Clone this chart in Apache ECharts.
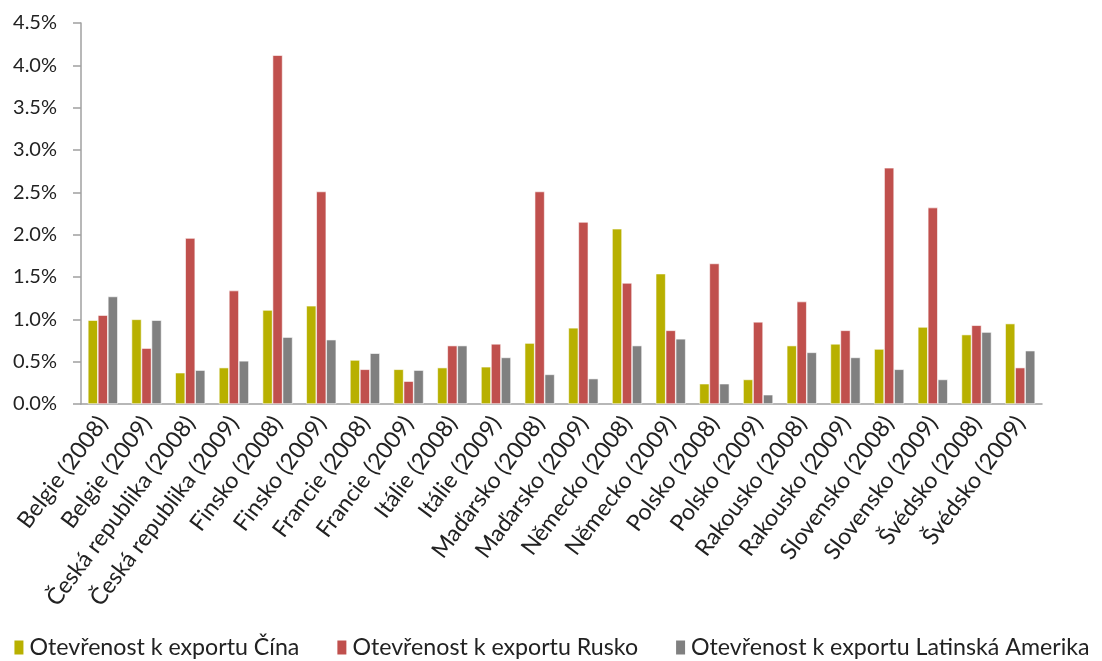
<!DOCTYPE html>
<html><head><meta charset="utf-8">
<script src="https://cdn.jsdelivr.net/npm/echarts@6/dist/echarts.min.js"></script>
<style>html,body{margin:0;padding:0;background:#fff}#c{width:1102px;height:661px}</style>
</head><body><div id="c"></div>
<script>
const categories = ["Belgie (2008)","Belgie (2009)","Česká republika (2008)","Česká republika (2009)","Finsko (2008)","Finsko (2009)","Francie (2008)","Francie (2009)","Itálie (2008)","Itálie (2009)","Maďarsko (2008)","Maďarsko (2009)","Německo (2008)","Německo (2009)","Polsko (2008)","Polsko (2009)","Rakousko (2008)","Rakousko (2009)","Slovensko (2008)","Slovensko (2009)","Švédsko (2008)","Švédsko (2009)"];
const seriesNames = ["Otevřenost k exportu Čína","Otevřenost k exportu Rusko","Otevřenost k exportu Latinská Amerika"];
const cina  = [0.99,1.00,0.37,0.43,1.11,1.16,0.52,0.41,0.43,0.44,0.72,0.90,2.07,1.54,0.24,0.29,0.69,0.71,0.65,0.91,0.82,0.95];
const rusko = [1.05,0.66,1.96,1.34,4.12,2.51,0.41,0.27,0.69,0.71,2.51,2.15,1.43,0.87,1.66,0.97,1.21,0.87,2.79,2.32,0.93,0.43];
const latam = [1.27,0.99,0.40,0.51,0.79,0.76,0.60,0.40,0.69,0.55,0.35,0.30,0.69,0.77,0.24,0.11,0.61,0.55,0.41,0.29,0.85,0.63];
const yTicks = [0,0.5,1,1.5,2,2.5,3,3.5,4,4.5];

const colors = ['#B8B000','#C0504D','#808080'];
const font = "Lato, sans-serif";
const chart = echarts.init(document.getElementById('c'));
const mk = (name, data, i) => ({
  name, type:'bar', data, barWidth:10, barGap:'0%',
  itemStyle:{color:colors[i], borderColor:'#fff', borderWidth:0.6}
});
chart.setOption({
  animation:false,
  color:colors,
  grid:{left:81,right:60,top:23,bottom:257,containLabel:false,outerBoundsMode:'none'},
  legend:{bottom:2,left:'center',itemWidth:11,itemHeight:16,itemGap:36,icon:'rect',padding:0,
    textStyle:{fontFamily:font,fontSize:23.2,color:'#222'},data:seriesNames},
  xAxis:{type:'category',data:categories,
    axisLine:{lineStyle:{color:'#A0A0A0',width:1.5}},
    axisTick:{alignWithLabel:false,length:8,lineStyle:{color:'#A0A0A0',width:1.5}},
    axisLabel:{rotate:53,interval:0,margin:15,fontFamily:font,fontSize:23,color:'#222'}},
  yAxis:{type:'value',min:0,max:4.5,interval:0.5,
    axisLine:{show:true,lineStyle:{color:'#A0A0A0',width:1.5}},
    axisTick:{show:true,length:8,lineStyle:{color:'#A0A0A0',width:1.5}},
    splitLine:{show:false},
    axisLabel:{margin:24,fontFamily:font,fontSize:20,color:'#222',formatter:v=>yTicks.includes(v)?v.toFixed(1)+'%':''}},
  series:[mk(seriesNames[0],cina,0),mk(seriesNames[1],rusko,1),mk(seriesNames[2],latam,2)]
});
</script></body></html>
